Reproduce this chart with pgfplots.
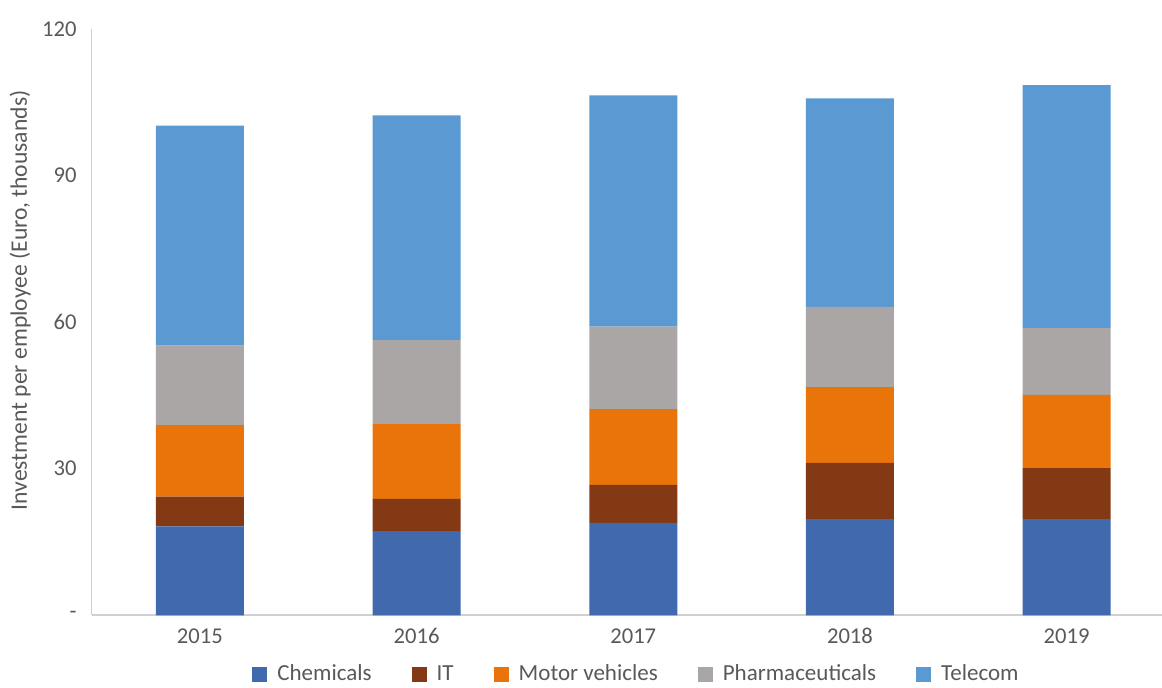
\documentclass[border=0pt]{standalone}
\usepackage{pgfplots}
\pgfplotsset{compat=1.18}
\usepackage{fontspec}
\setmainfont{Carlito}
\definecolor{chem}{RGB}{65,105,174}
\definecolor{itc}{RGB}{131,57,20}
\definecolor{motor}{RGB}{232,116,10}
\definecolor{pharma}{RGB}{170,166,165}
\definecolor{tele}{RGB}{91,153,210}
\definecolor{txt}{RGB}{89,89,89}
\definecolor{axln}{RGB}{208,208,208}
\begin{document}
\begin{tikzpicture}
\begin{axis}[
  scale only axis,
  width=535pt, height=293pt,
  ybar stacked, bar width=44pt,
  xmin=-0.5, xmax=4.44,
  ymin=0, ymax=120,
  xtick={0,1,2,3,4},
  xticklabels={2015,2016,2017,2018,2019},
  ytick={0,30,60,90,120},
  yticklabels={{-\hspace{2pt}},30,60,90,120},
  major tick length=0pt,
  axis x line*=bottom, axis y line*=left,
  axis line style={axln, line width=0.8pt},
  x axis line style={-}, y axis line style={-},
  font=\fontsize{11.5}{13}\selectfont,
  tick label style={txt, font=\fontsize{11.3}{13}\selectfont},
  yticklabel style={xshift=-4pt},
  xticklabel style={yshift=-3pt},
  ylabel={Investment per employee (Euro, thousands)},
  ylabel style={txt, font=\fontsize{11.8}{13}\selectfont, at={(axis description cs:-0.0668,0.537)}, anchor=center},
  legend columns=5,
  legend style={draw=none, fill=none, text=txt, inner sep=1pt,
    at={(axis description cs:0.51,0)}, anchor=center, yshift=-29.5pt,
    font=\fontsize{11.5}{13}\selectfont,
    /tikz/every odd column/.append style={column sep=3pt},
    /tikz/every even column/.append style={column sep=18pt}},
  legend image code/.code={\fill[#1] (0pt,-3.75pt) rectangle (7.5pt,3.75pt);},
  every axis plot/.append style={draw=none},
  clip=false,
]
\addplot[fill=chem] coordinates {(0,18.2) (1,17.2) (2,18.9) (3,19.7) (4,19.7)};
\addlegendentry{Chemicals}
\addplot[fill=itc] coordinates {(0,6.1) (1,6.6) (2,7.8) (3,11.5) (4,10.4)};
\addlegendentry{IT}
\addplot[fill=motor] coordinates {(0,14.6) (1,15.3) (2,15.5) (3,15.5) (4,15.0)};
\addlegendentry{Motor vehicles}
\addplot[fill=pharma] coordinates {(0,16.3) (1,17.2) (2,16.9) (3,16.4) (4,13.7)};
\addlegendentry{Pharmaceuticals}
\addplot[fill=tele] coordinates {(0,45.0) (1,46.0) (2,47.3) (3,42.7) (4,49.7)};
\addlegendentry{Telecom}
\end{axis}
\pgfresetboundingbox
\path[use as bounding box] (-45.75pt,-36pt) rectangle (535pt,307.5pt);
\end{tikzpicture}
\end{document}
